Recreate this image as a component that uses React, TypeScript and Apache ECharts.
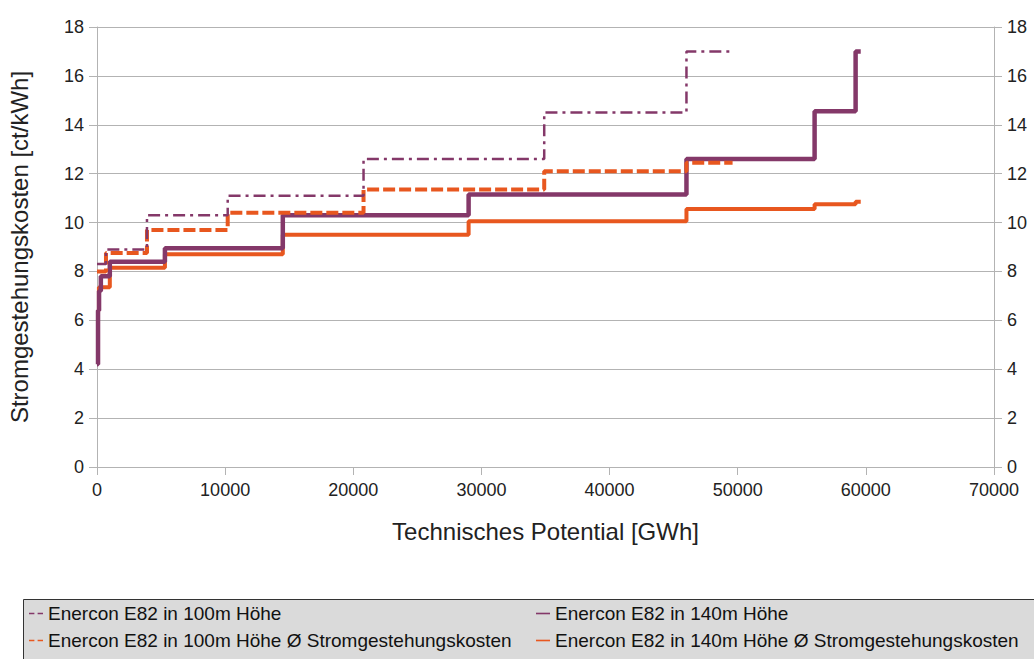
import React, { useEffect, useRef } from "react";
import * as echarts from "echarts";

const xTicks = [0, 10000, 20000, 30000, 40000, 50000, 60000, 70000];
const yTicks = [0, 2, 4, 6, 8, 10, 12, 14, 16, 18];

const name100 = "Enercon E82 in 100m Höhe";
const name140 = "Enercon E82 in 140m Höhe";
const name100Avg = "Enercon E82 in 100m Höhe Ø Stromgestehungskosten";
const name140Avg = "Enercon E82 in 140m Höhe Ø Stromgestehungskosten";

// step breakpoints: potential [GWh] where each cost level starts, last = end of curve
const e100X = [0, 700, 3900, 10200, 20800, 34900, 46000, 49600];
const e100Y = [8.3, 8.9, 10.3, 11.1, 12.6, 14.5, 17.0, 17.0];
const e100AvgX = [0, 700, 3900, 10200, 20800, 34900, 46000, 49600];
const e100AvgY = [8.0, 8.75, 9.7, 10.4, 11.35, 12.1, 12.45, 12.45];
const e140X = [0, 80, 160, 300, 1000, 5300, 14500, 29000, 46000, 56000, 59200, 59600];
const e140Y = [4.2, 6.4, 7.2, 7.8, 8.4, 8.95, 10.3, 11.15, 12.6, 14.55, 17.0, 17.0];
const e140AvgX = [0, 150, 1000, 5300, 14500, 29000, 46000, 56000, 59200, 59600];
const e140AvgY = [6.4, 7.35, 8.15, 8.7, 9.5, 10.05, 10.55, 10.75, 10.85, 10.85];

const PURPLE = "#843869";
const ORANGE = "#e8571f";
const FONT = "Liberation Sans";
const DASH_ICON = "path://M0 0h5v1.5H0zM8 0h5v1.5H8z";
const SOLID_ICON = "path://M0 0h13v1.5H0z";

const zip = (xs: number[], ys: number[]) => xs.map((x, i) => [x, ys[i]]);

export default function App() {
  const ref = useRef<HTMLDivElement>(null);
  useEffect(() => {
    if (!ref.current) return;
    const chart = echarts.init(ref.current, null, { renderer: "svg" });
    const axisLabel = { fontSize: 18, color: "#222", fontFamily: FONT, formatter: (v: number) => String(v) };
    const axisLine = { show: true, lineStyle: { color: "#b3b3b3", width: 1 } };
    const axisTick = { show: true, inside: false, length: 8, lineStyle: { color: "#b3b3b3" } };
    const yCommon = {
      type: "value",
      min: yTicks[0],
      max: yTicks[yTicks.length - 1],
      interval: 2,
      axisLine,
      axisTick,
      axisLabel: { ...axisLabel, margin: 13 },
    };
    const mkLegend = (name: string, icon: string, left: number, top: number) => ({
      orient: "horizontal",
      left,
      top,
      padding: 0,
      itemWidth: 14,
      itemHeight: 14,
      data: [{ name, icon }],
      textStyle: { fontSize: 19, color: "#111", fontFamily: FONT },
    });
    chart.setOption({
      animation: false,
      backgroundColor: "#ffffff",
      textStyle: { fontFamily: FONT },
      grid: { left: 97, right: 40, top: 27, bottom: 192, containLabel: false, outerBoundsMode: "none" },
      graphic: [
        {
          type: "rect",
          shape: { x: 23.5, y: 599.5, width: 1040, height: 100 },
          style: { fill: "#dadada", stroke: "#333", lineWidth: 1 },
          z: -1,
        },
      ],
      legend: [
        mkLegend(name100, DASH_ICON, 29, 604),
        mkLegend(name100Avg, DASH_ICON, 29, 631),
        mkLegend(name140, SOLID_ICON, 536, 604),
        mkLegend(name140Avg, SOLID_ICON, 536, 631),
      ],
      xAxis: {
        type: "value",
        min: xTicks[0],
        max: xTicks[xTicks.length - 1],
        interval: 10000,
        axisLine,
        axisTick,
        splitLine: { show: false },
        axisLabel: { ...axisLabel, margin: 14 },
        name: "Technisches Potential [GWh]",
        nameLocation: "middle",
        nameGap: 52,
        nameTextStyle: { fontSize: 24, color: "#222", fontFamily: FONT },
      },
      yAxis: [
        {
          ...yCommon,
          position: "left",
          splitLine: { show: true, lineStyle: { color: "#b3b3b3", width: 1 } },
          name: "Stromgestehungskosten [ct/kWh]",
          nameLocation: "middle",
          nameRotate: 90,
          nameGap: 66,
          nameTextStyle: { fontSize: 24, color: "#222", fontFamily: FONT },
        },
        {
          ...yCommon,
          position: "right",
          splitLine: { show: false },
        },
      ],
      series: [
        {
          name: name100,
          type: "line",
          step: "end",
          symbol: "none",
          data: zip(e100X, e100Y),
          lineStyle: { color: PURPLE, width: 2.5, type: [12, 5, 3, 5] },
          itemStyle: { color: PURPLE },
          z: 4,
        },
        {
          name: name140,
          type: "line",
          step: "end",
          symbol: "none",
          data: zip(e140X, e140Y),
          lineStyle: { color: PURPLE, width: 4.5 },
          itemStyle: { color: PURPLE },
          z: 2,
        },
        {
          name: name100Avg,
          type: "line",
          step: "end",
          symbol: "none",
          data: zip(e100AvgX, e100AvgY),
          lineStyle: { color: ORANGE, width: 4, type: [12, 4] },
          itemStyle: { color: ORANGE },
          z: 3,
        },
        {
          name: name140Avg,
          type: "line",
          step: "end",
          symbol: "none",
          data: zip(e140AvgX, e140AvgY),
          lineStyle: { color: ORANGE, width: 4 },
          itemStyle: { color: ORANGE },
          z: 1,
        },
      ],
    });
    return () => chart.dispose();
  }, []);
  return (
    <div
      ref={ref}
      style={{ position: "fixed", left: 0, top: 0, width: 1034, height: 659, background: "#fff" }}
    />
  );
}
